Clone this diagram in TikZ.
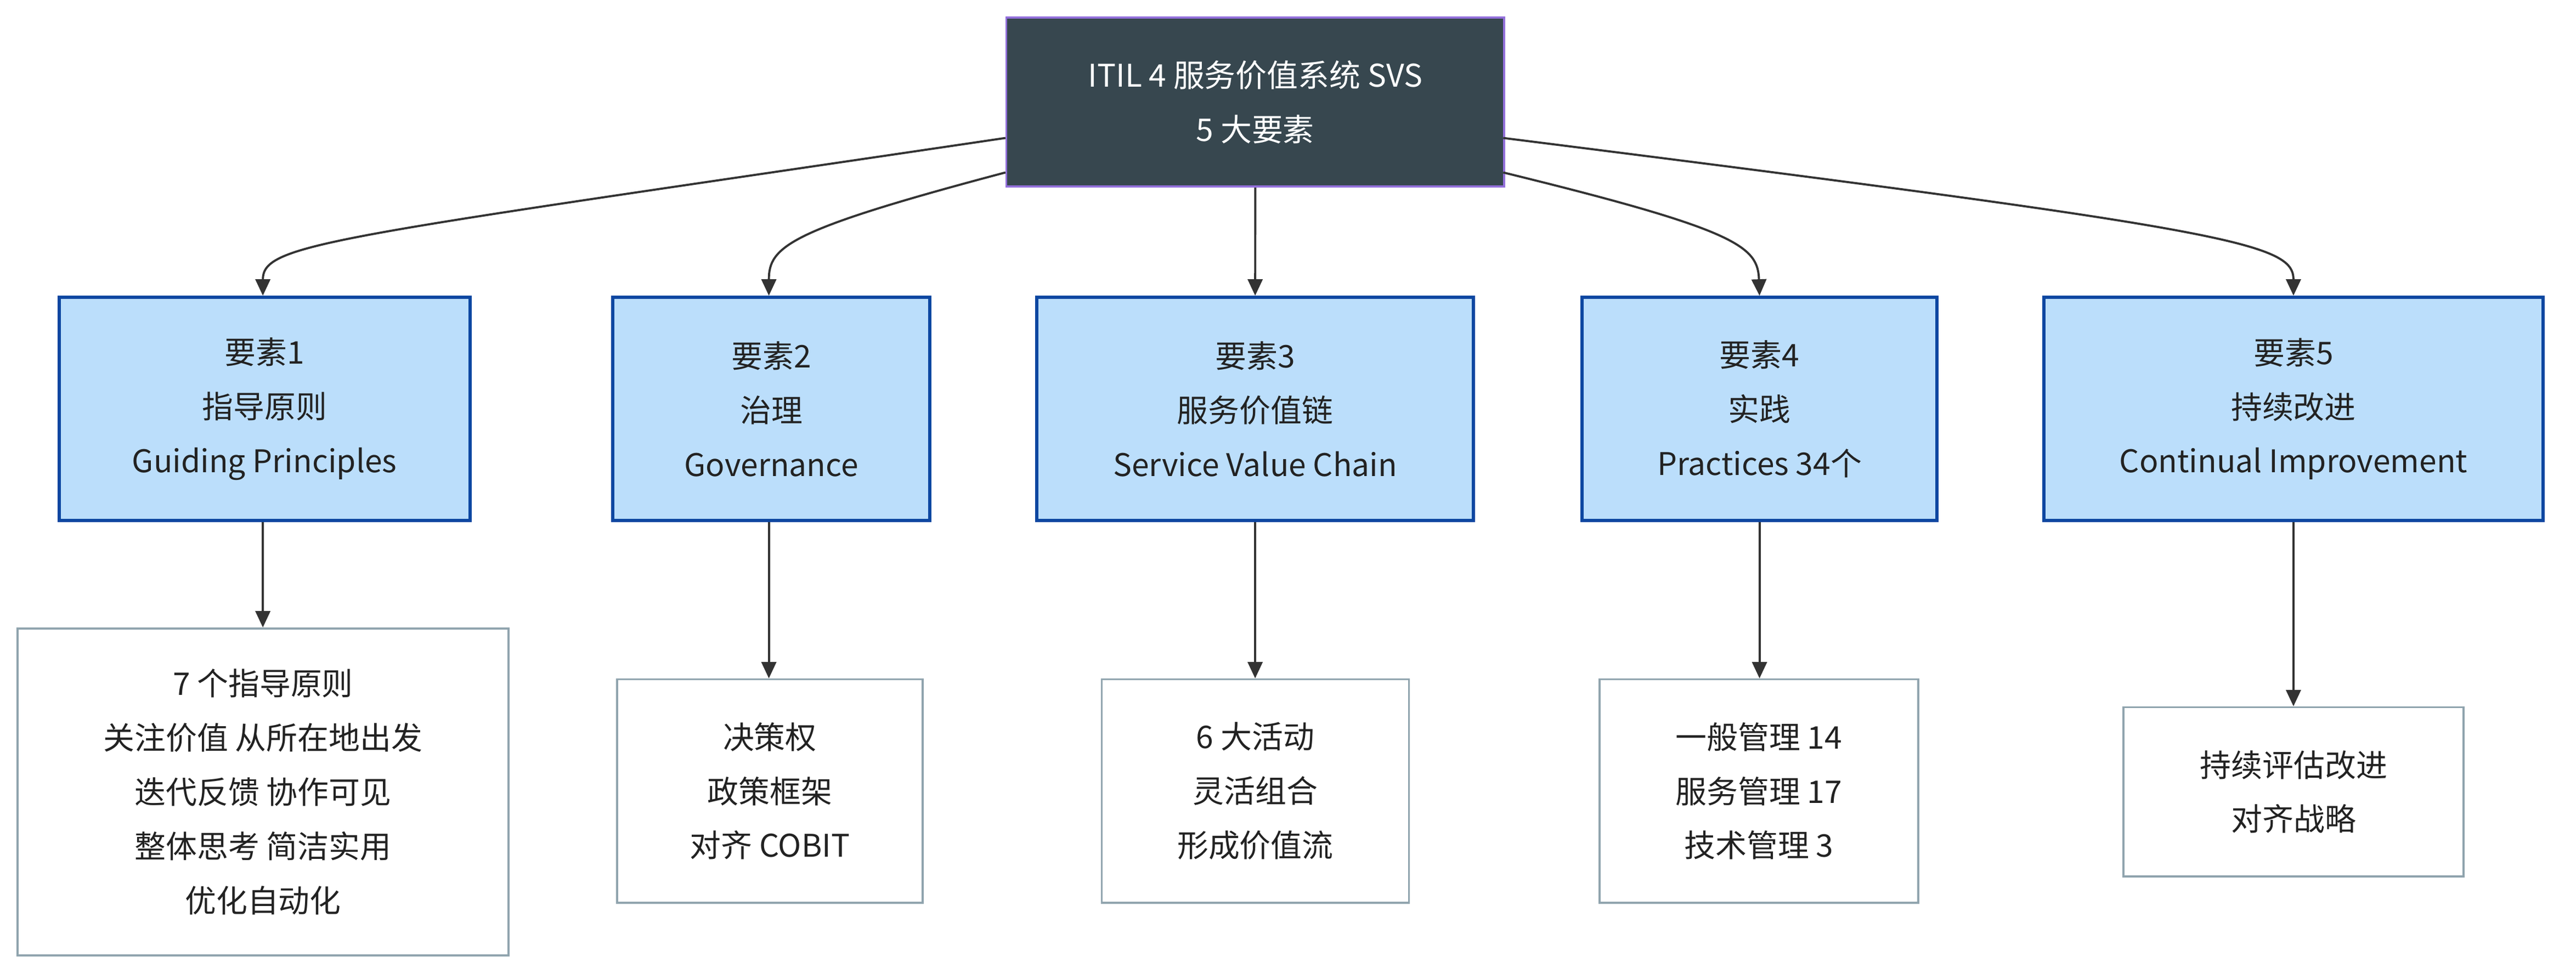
\documentclass[tikz,border=0pt]{standalone}
\usepackage{fontspec}
\setmainfont{Noto Sans CJK SC}
\usetikzlibrary{arrows.meta}
\definecolor{topfill}{HTML}{37474F}
\definecolor{topdraw}{HTML}{9370DB}
\definecolor{bfill}{HTML}{BBDEFB}
\definecolor{bdraw}{HTML}{0D47A1}
\definecolor{gdraw}{HTML}{90A4AE}
\definecolor{tcol}{HTML}{222222}
\definecolor{acol}{HTML}{333333}
\tikzset{
  box/.style={draw, anchor=north west, inner sep=0pt, align=center, font=\fontsize{19}{33}\selectfont, text=tcol},
  top/.style={box, fill=topfill, draw=topdraw, line width=1.2pt, text=white},
  elem/.style={box, fill=bfill, draw=bdraw, line width=2pt},
  det/.style={box, fill=white, draw=gdraw, line width=1.2pt},
  arr/.style={draw=acol, line width=1.3pt, -{Triangle[length=10pt,width=9pt]}}
}
\begin{document}
\begin{tikzpicture}[x=1pt,y=-1pt]
\useasboundingbox (0,0) rectangle (1568,596);
\node[top, minimum width=303, minimum height=103] (t) at (612,10) {ITIL 4 服务价值系统 SVS\\5 大要素};
\node[elem, minimum width=250, minimum height=136] (e1) at (35,180) {要素1\\指导原则\\Guiding Principles};
\node[elem, minimum width=193, minimum height=136] (e2) at (372,180) {要素2\\治理\\Governance};
\node[elem, minimum width=266, minimum height=136] (e3) at (630,180) {要素3\\服务价值链\\Service Value Chain};
\node[elem, minimum width=216, minimum height=136] (e4) at (962,180) {要素4\\实践\\Practices 34个};
\node[elem, minimum width=304, minimum height=136] (e5) at (1243,180) {要素5\\持续改进\\Continual Improvement};
\node[det, minimum width=299, minimum height=199] (d1) at (10,382) {7 个指导原则\\关注价值 从所在地出发\\迭代反馈 协作可见\\整体思考 简洁实用\\优化自动化};
\node[det, minimum width=186, minimum height=136] (d2) at (375,413) {决策权\\政策框架\\对齐 COBIT};
\node[det, minimum width=187, minimum height=136] (d3) at (670,413) {6 大活动\\灵活组合\\形成价值流};
\node[det, minimum width=194, minimum height=136] (d4) at (973,413) {一般管理 14\\服务管理 17\\技术管理 3};
\node[det, minimum width=207, minimum height=103] (d5) at (1292,430) {持续评估改进\\对齐战略};
\coordinate (s1) at (612,84);
\coordinate (s2) at (612,105);
\coordinate (s4) at (915,105);
\coordinate (s5) at (915,84);
\draw[arr] (s1) .. controls (200,145) and (160,148) .. (e1.north -| 160,0);
\draw[arr] (s2) .. controls (480,140) and (468,150) .. (e2.north -| 468,0);
\draw[arr] (t.south) -- (e3.north);
\draw[arr] (s4) .. controls (1058,140) and (1070,150) .. (e4.north);
\draw[arr] (s5) .. controls (1360,140) and (1396,148) .. (e5.north);
\draw[arr] (e1.south -| 160,0) -- (d1.north -| 160,0);
\draw[arr] (e2.south -| 468,0) -- (d2.north -| 468,0);
\draw[arr] (e3.south) -- (e3.south |- d3.north);
\draw[arr] (e4.south) -- (e4.south |- d4.north);
\draw[arr] (e5.south) -- (e5.south |- d5.north);
\end{tikzpicture}
\end{document}
